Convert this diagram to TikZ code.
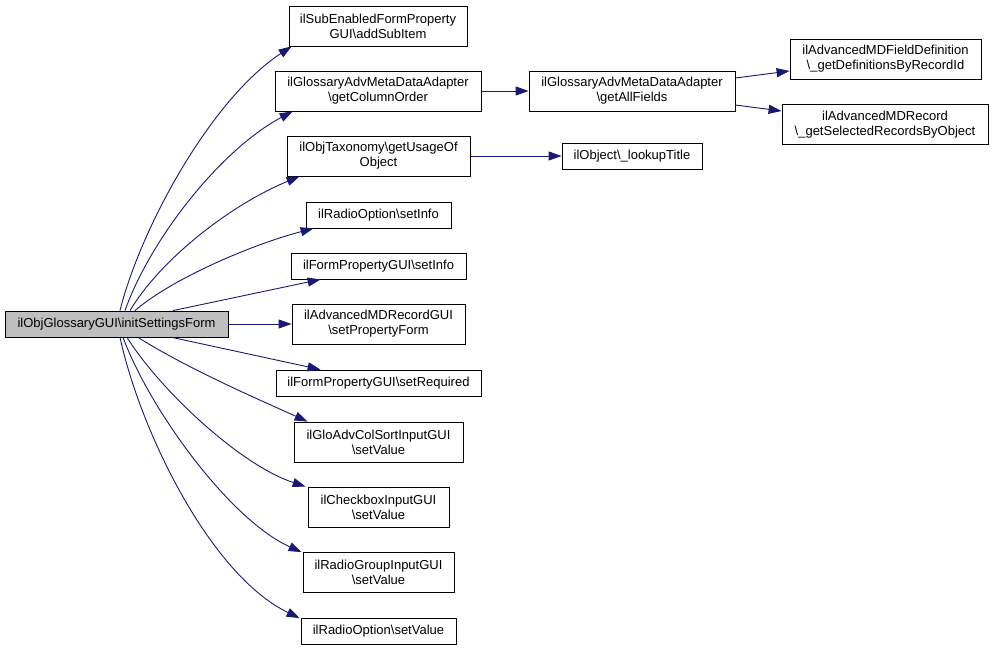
\documentclass[tikz,border=0pt]{standalone}
\usepackage{fontspec}
\setmainfont{Liberation Sans}
\usetikzlibrary{arrows.meta}
\definecolor{edgeblue}{HTML}{191970}
\definecolor{mainfill}{HTML}{BFBFBF}
\tikzset{
  fn/.style={draw=black, line width=0.8pt, fill=white, inner sep=0pt, align=center,
    font=\fontsize{13}{15}\selectfont},
  mainfn/.style={fn, fill=mainfill},
  call/.style={draw=edgeblue, line width=0.9pt, -{Triangle[length=13pt,width=9pt]}}
}
\begin{document}
\begin{tikzpicture}[x=1pt,y=-1pt]
\useasboundingbox (0,0) rectangle (993,650);
\node[mainfn, minimum width=223pt, minimum height=26pt] (main) at (116.5,324) {ilObjGlossaryGUI\textbackslash initSettingsForm};
\node[fn, minimum width=178pt, minimum height=40pt] (sub) at (378,26) {ilSubEnabledFormProperty\\GUI\textbackslash addSubItem};
\node[fn, minimum width=206pt, minimum height=40pt] (colord) at (378,91) {ilGlossaryAdvMetaDataAdapter\\\textbackslash getColumnOrder};
\node[fn, minimum width=183pt, minimum height=40pt] (usage) at (378.5,156) {ilObjTaxonomy\textbackslash getUsageOf\\Object};
\node[fn, minimum width=145pt, minimum height=26pt] (rsetinfo) at (378.5,215) {ilRadioOption\textbackslash setInfo};
\node[fn, minimum width=175pt, minimum height=26pt] (fsetinfo) at (378.5,266) {ilFormPropertyGUI\textbackslash setInfo};
\node[fn, minimum width=173pt, minimum height=40pt] (propform) at (378.5,324) {ilAdvancedMDRecordGUI\\\textbackslash setPropertyForm};
\node[fn, minimum width=205pt, minimum height=26pt] (req) at (378.5,383) {ilFormPropertyGUI\textbackslash setRequired};
\node[fn, minimum width=169pt, minimum height=40pt] (colsort) at (378.5,442) {ilGloAdvColSortInputGUI\\\textbackslash setValue};
\node[fn, minimum width=141pt, minimum height=40pt] (checkbox) at (378.5,507) {ilCheckboxInputGUI\\\textbackslash setValue};
\node[fn, minimum width=151pt, minimum height=40pt] (rgroup) at (378.5,572.5) {ilRadioGroupInputGUI\\\textbackslash setValue};
\node[fn, minimum width=155pt, minimum height=26pt] (rsetval) at (378.5,631.5) {ilRadioOption\textbackslash setValue};
\node[fn, minimum width=206pt, minimum height=40pt] (allfields) at (632,91) {ilGlossaryAdvMetaDataAdapter\\\textbackslash getAllFields};
\node[fn, minimum width=140pt, minimum height=26pt] (lookup) at (632,156) {ilObject\textbackslash \_lookupTitle};
\node[fn, minimum width=191pt, minimum height=40pt] (fielddef) at (885.5,59) {ilAdvancedMDFieldDefinition\\\textbackslash \_getDefinitionsByRecordId};
\node[fn, minimum width=206pt, minimum height=40pt] (record) at (885,124.5) {ilAdvancedMDRecord\\\textbackslash \_getSelectedRecordsByObject};

% edges from main (upwards)
\draw[call] ([xshift=3.5pt]main.north) .. controls (140,230) and (210,100) .. ([xshift=3pt]sub.south west);
\draw[call] ([xshift=8.5pt]main.north) .. controls (150,240) and (220,150) .. ([xshift=18pt]colord.south west);
\draw[call] ([xshift=13.5pt]main.north) .. controls (160,260) and (230,205) .. ([xshift=13pt]usage.south west);
\draw[call] ([xshift=18.5pt]main.north) .. controls (170,280) and (250,245) .. ([xshift=8pt]rsetinfo.south west);
\draw[call] ([xshift=56.5pt]main.north) -- ([xshift=30pt]fsetinfo.south west);
\draw[call] (main.east) -- (propform.west);
% downwards
\draw[call] ([xshift=55.5pt]main.south) -- ([xshift=45pt]req.north west);
\draw[call] ([xshift=21.5pt]main.south) .. controls (190,370) and (260,400) .. ([xshift=14pt]colsort.north west);
\draw[call] ([xshift=10.5pt]main.south) .. controls (160,390) and (240,465) .. ([xshift=-2pt]checkbox.north west);
\draw[call] ([xshift=6.5pt]main.south) .. controls (150,410) and (230,520) .. ([xshift=-1pt]rgroup.north west);
\draw[call] ([xshift=3.5pt]main.south) .. controls (140,430) and (210,575) .. ([xshift=-1pt]rsetval.north west);
% second level
\draw[call] (colord.east) -- (allfields.west);
\draw[call] (usage.east) -- (lookup.west);
\draw[call] ([yshift=13pt]allfields.east) -- ([yshift=-12pt]fielddef.west);
\draw[call] ([yshift=-14pt]allfields.east) -- ([yshift=13.5pt]record.west);
\end{tikzpicture}
\end{document}
